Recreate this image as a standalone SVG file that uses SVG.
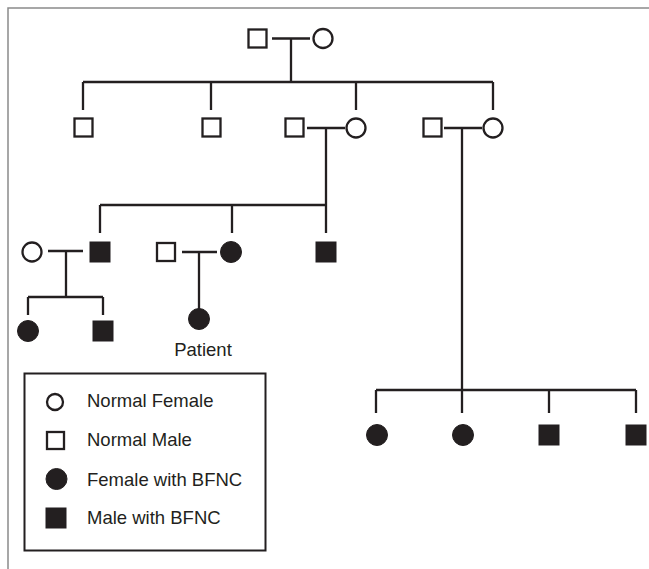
<svg xmlns="http://www.w3.org/2000/svg" width="649" height="569" viewBox="0 0 649 569">
<style>
.ln{stroke:#231f20;stroke-width:2.3;fill:none}
.m{fill:#fff;stroke:#231f20;stroke-width:2.3}
.f{fill:#231f20;stroke:#231f20;stroke-width:1}
.t{font-family:"Liberation Sans",Arial,sans-serif;font-size:18.5px;fill:#231f20}
.fr{stroke:#8a8a8a;stroke-width:1.5;fill:none}
</style>
<rect width="649" height="569" fill="#fff"/>
<path class="fr" d="M8,569 V8 H649"/>
<g id="connectors">
<path class="ln" d="M272,38.5 H310 M291,38.5 V82 M83,82 H493 M83,82 V110 M211,82 V110 M356,82 V110 M493,82 V110"/>
<path class="ln" d="M307,128 H345 M326,128 V233 M100,205 H326 M100,205 V233 M232,205 V233"/>
<path class="ln" d="M444,128 H482 M462,128 V413 M376,390 H636 M376,390 V413 M549,390 V413 M636,390 V413"/>
<path class="ln" d="M48,251 H83 M66,251 V297 M28,297 H103 M28,297 V315 M103,297 V315"/>
<path class="ln" d="M182,252 H217 M199,252 V309"/>
</g>
<g id="g1-father"><rect class="m" x="248.5" y="29.5" width="18" height="18"/></g>
<g id="g1-mother"><circle class="m" cx="323" cy="38.5" r="9.5"/></g>
<g id="g2-son1"><rect class="m" x="74.5" y="118.5" width="18" height="18"/></g>
<g id="g2-son2"><rect class="m" x="202.5" y="118.5" width="18" height="18"/></g>
<g id="g2-husband1"><rect class="m" x="285.5" y="118.5" width="18" height="18"/></g>
<g id="g2-daughter1"><circle class="m" cx="356" cy="128" r="9.5"/></g>
<g id="g2-husband2"><rect class="m" x="423.5" y="118.5" width="18" height="18"/></g>
<g id="g2-daughter2"><circle class="m" cx="493" cy="128" r="9.5"/></g>
<g id="g3-wife"><circle class="m" cx="32" cy="252" r="9.5"/></g>
<g id="g3-son-affected1"><rect class="f" x="90" y="242" width="20" height="20"/></g>
<g id="g3-husband"><rect class="m" x="157" y="243" width="18" height="18"/></g>
<g id="g3-daughter-affected"><circle class="f" cx="231" cy="252" r="10.5"/></g>
<g id="g3-son-affected2"><rect class="f" x="316" y="242" width="20" height="20"/></g>
<g id="g4-daughter-affected"><circle class="f" cx="28" cy="331" r="10.5"/></g>
<g id="g4-son-affected"><rect class="f" x="93" y="321" width="20" height="20"/></g>
<g id="patient"><circle class="f" cx="199" cy="319" r="10.5"/><text class="t" x="203" y="356" text-anchor="middle">Patient</text></g>
<g id="g3b-daughter1"><circle class="f" cx="377" cy="435" r="10.5"/></g>
<g id="g3b-daughter2"><circle class="f" cx="463" cy="435" r="10.5"/></g>
<g id="g3b-son1"><rect class="f" x="539" y="425" width="20" height="20"/></g>
<g id="g3b-son2"><rect class="f" x="626" y="425" width="20" height="20"/></g>
<g id="legend">
<rect x="24.5" y="373.5" width="241" height="177" fill="#fff" stroke="#231f20" stroke-width="2"/>
<circle class="m" cx="55" cy="402" r="8"/>
<text class="t" x="87" y="407">Normal Female</text>
<rect class="m" x="47" y="432" width="17" height="17"/>
<text class="t" x="87" y="446">Normal Male</text>
<circle class="f" cx="56.5" cy="479" r="10.5"/>
<text class="t" x="87" y="486">Female with BFNC</text>
<rect class="f" x="46" y="508" width="20" height="20"/>
<text class="t" x="87" y="524">Male with BFNC</text>
</g>
</svg>
